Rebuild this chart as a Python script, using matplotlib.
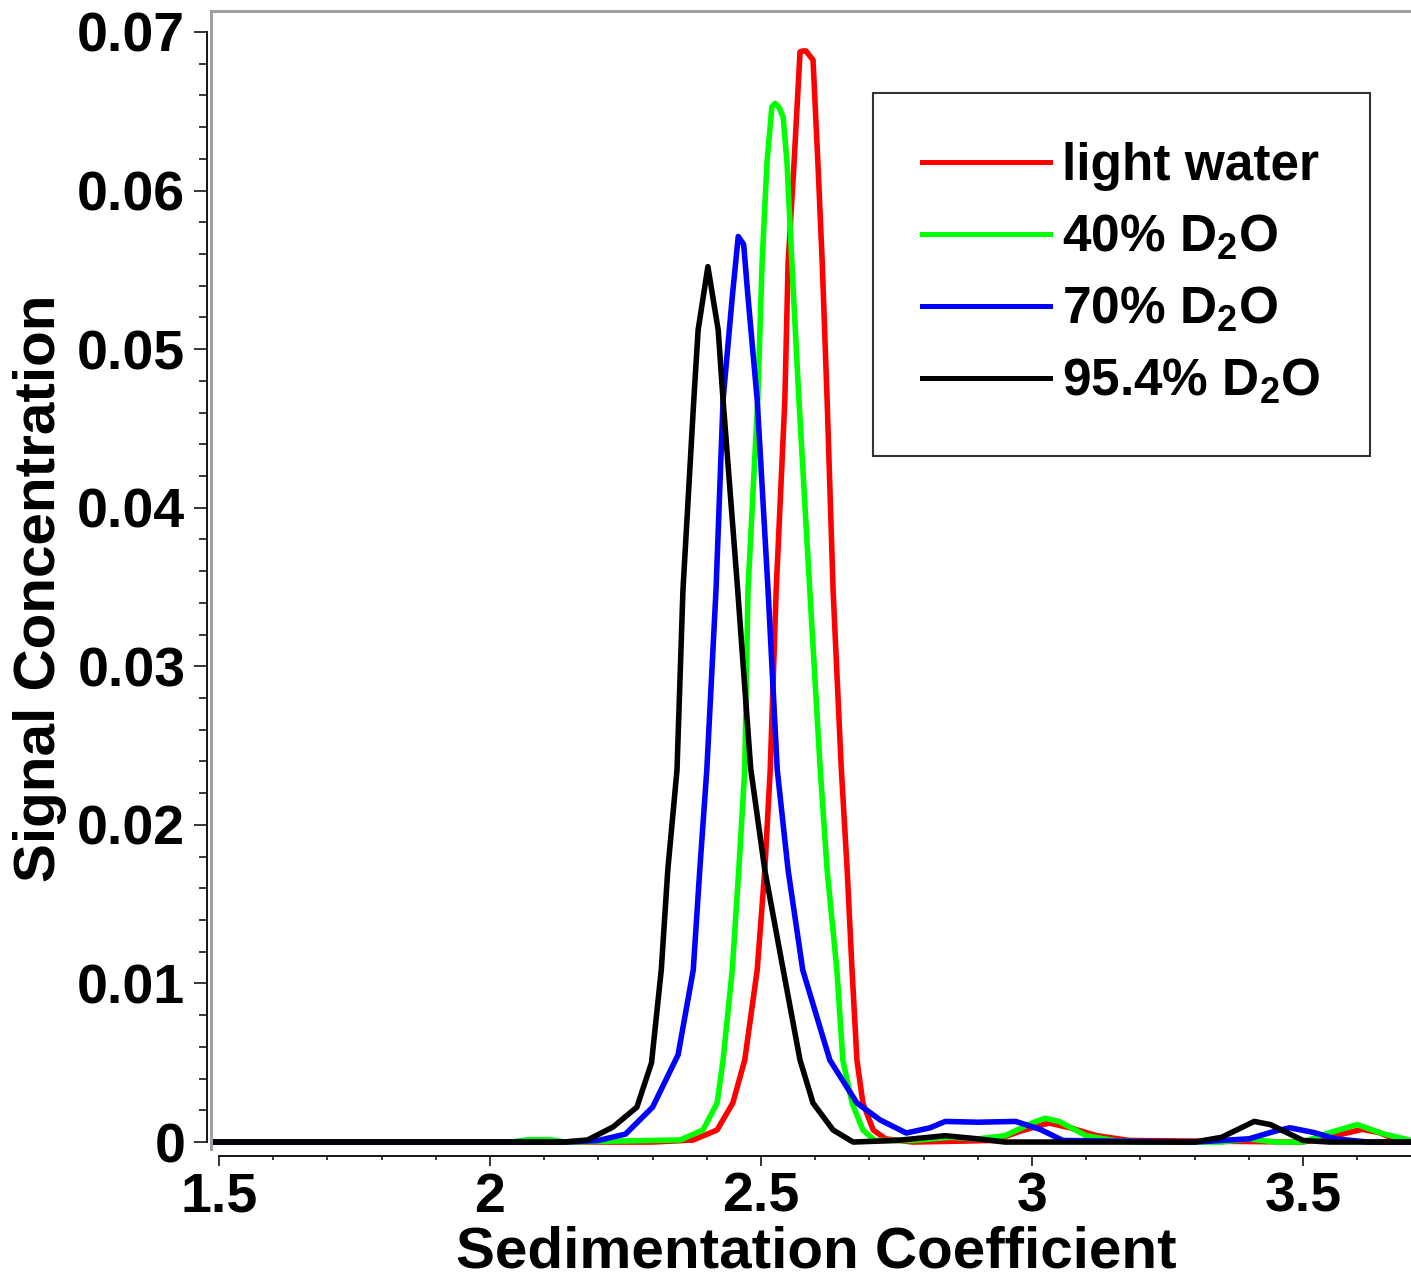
import matplotlib
matplotlib.use('Agg')
import matplotlib.pyplot as plt

plt.rcParams['font.family'] = ['Liberation Sans', 'DejaVu Sans']
plt.rcParams['font.weight'] = 'bold'
plt.rcParams['mathtext.fontset'] = 'custom'
plt.rcParams['mathtext.rm'] = 'Liberation Sans:bold'
plt.rcParams['mathtext.bf'] = 'Liberation Sans:bold'

# Data
light_x = [1.48, 2.30, 2.375, 2.419, 2.448, 2.470, 2.493, 2.507, 2.517, 2.528, 2.544, 2.550,
           2.561, 2.572, 2.577, 2.583, 2.596, 2.605, 2.613, 2.622, 2.633, 2.648, 2.659, 2.668,
           2.677, 2.688, 2.707, 2.73, 2.78, 2.93, 2.98, 3.031, 3.07, 3.12, 3.18, 3.50, 3.56,
           3.609, 3.64, 3.668, 3.70]
light_y = [0, 0, 0.00013, 0.00076, 0.00246, 0.00517, 0.01085, 0.01715, 0.02346, 0.03481,
           0.04679, 0.05543, 0.06174, 0.06874, 0.0688, 0.0688, 0.06823, 0.06174, 0.05543,
           0.04679, 0.03481, 0.02365, 0.01715, 0.01085, 0.00517, 0.00246, 0.00076, 0.0002,
           0, 0.0001, 0.0007, 0.0012, 0.0009, 0.0004, 0.0001, 0, 0.0004, 0.0008, 0.0006,
           0.0002, 0]

d40_x = [1.48, 2.04, 2.07, 2.11, 2.14, 2.30, 2.351, 2.393, 2.419, 2.430, 2.447, 2.459, 2.470,
         2.476, 2.494, 2.502, 2.511, 2.520, 2.526, 2.534, 2.541, 2.548, 2.557, 2.570, 2.590,
         2.609, 2.622, 2.640, 2.651, 2.668, 2.688, 2.71, 2.78, 2.85, 2.90, 2.95, 3.00, 3.024,
         3.05, 3.10, 3.15, 3.20, 3.35, 3.40, 3.45, 3.50, 3.55, 3.60, 3.65, 3.70]
d40_y = [0, 0, 0.00015, 0.00015, 0, 0.0001, 0.00013, 0.00076, 0.00246, 0.00517, 0.01085,
         0.01715, 0.02346, 0.03481, 0.04679, 0.05543, 0.06174, 0.06527, 0.0655, 0.0652,
         0.0646, 0.06174, 0.05543, 0.04679, 0.03481, 0.02365, 0.01715, 0.01085, 0.00517,
         0.00246, 0.00076, 0.0001, 0.0001, 0.0003, 0.0002, 0.0004, 0.0012, 0.0015, 0.0013,
         0.0004, 0.0001, 0, 0, 0.0002, 0, 0, 0.0006, 0.0011, 0.0005, 0.0001]

d70_x = [1.48, 2.14, 2.20, 2.25, 2.30, 2.347, 2.375, 2.387, 2.400, 2.417, 2.430, 2.447, 2.458,
         2.468, 2.476, 2.493, 2.513, 2.530, 2.550, 2.577, 2.627, 2.677, 2.720, 2.768, 2.812,
         2.84, 2.90, 2.97, 3.015, 3.057, 3.30, 3.40, 3.45, 3.476, 3.52, 3.56, 3.62, 3.70]
d70_y = [0, 0, 0.0001, 0.0005, 0.0022, 0.0055, 0.01085, 0.01715, 0.02346, 0.03481, 0.04679,
         0.05329, 0.0571, 0.0566, 0.05329, 0.04679, 0.03481, 0.02346, 0.01715, 0.01085,
         0.00517, 0.00246, 0.00139, 0.00057, 0.0009, 0.0013, 0.00125, 0.0013, 0.0008, 0.0001,
         0, 0.0002, 0.0007, 0.0009, 0.0006, 0.0002, 0, 0]

d95_x = [1.48, 2.135, 2.18, 2.227, 2.271, 2.298, 2.316, 2.328, 2.345, 2.356, 2.376, 2.384,
         2.402, 2.421, 2.430, 2.457, 2.481, 2.507, 2.541, 2.572, 2.596, 2.633, 2.670, 2.75,
         2.84, 2.90, 2.95, 3.30, 3.35, 3.41, 3.44, 3.50, 3.55, 3.70]
d95_y = [0, 0, 0.00013, 0.00095, 0.0022, 0.0050, 0.01085, 0.01715, 0.02346, 0.03481, 0.04679,
         0.05121, 0.0552, 0.05121, 0.04679, 0.03481, 0.02355, 0.01715, 0.01085, 0.00517,
         0.00246, 0.00076, 0, 0.0001, 0.0004, 0.0002, 0, 0, 0.0003, 0.0013, 0.0011, 0.0001,
         0, 0]

series = [
    (light_x, light_y, '#ff0000', 'light water'),
    (d40_x, d40_y, '#00ff00', r'40% D$_\mathbf{2}$O'),
    (d70_x, d70_y, '#0000ff', r'70% D$_\mathbf{2}$O'),
    (d95_x, d95_y, '#000000', r'95.4% D$_\mathbf{2}$O'),
]

W, H = 1411, 1278
fig = plt.figure(figsize=(W / 100, H / 100), dpi=100)
ax = fig.add_axes([211 / W, 1 - 1156 / H, 1 - 211 / W, (1156 - 11) / H])

for xs, ys, color, label in series:
    ax.plot(xs, ys, color=color, linewidth=4.0, label=label)

ax.set_xlim(1.4852, 3.6993)
ax.set_ylim(-0.00088, 0.07132)

# frame: grey top/left box, black axis lines with ticks
ax.spines['right'].set_visible(False)
ax.spines['top'].set_color('#a0a0a0')
ax.spines['top'].set_linewidth(2.2)
ax.plot([0, 0], [0.006, 1], transform=ax.transAxes, color='#a0a0a0', lw=2.2, clip_on=False)
ax.spines['left'].set_position(('outward', 3))
ax.spines['left'].set_bounds(0, 0.07)
ax.spines['left'].set_linewidth(1.3)
ax.spines['bottom'].set_bounds(1.5, 3.6993)
ax.spines['bottom'].set_linewidth(1.3)

ax.set_xticks([1.5, 2, 2.5, 3, 3.5])
ax.set_xticklabels(['1.5', '2', '2.5', '3', '3.5'])
ax.set_xticks([v / 10 for v in range(15, 37)], minor=True)
ax.set_yticks([0, 0.01, 0.02, 0.03, 0.04, 0.05, 0.06, 0.07])
ax.set_yticklabels(['0', '0.01', '0.02', '0.03', '0.04', '0.05', '0.06', '0.07'])
ax.set_yticks([v * 0.002 for v in range(0, 36)], minor=True)

ax.tick_params(axis='x', which='major', length=7.5, width=1.1, labelsize=40, pad=4)
ax.tick_params(axis='x', which='minor', length=3, width=1.1)
ax.tick_params(axis='y', which='major', length=9.5, width=1.1, labelsize=40, pad=6)
ax.tick_params(axis='y', which='minor', length=6, width=1.1)
for lab in ax.get_xticklabels() + ax.get_yticklabels():
    lab.set_fontweight('bold')

# axis titles placed to match the reference
fig.text(816 / W, 1 - 1268 / H, 'Sedimentation Coefficient', fontsize=42,
         fontweight='bold', ha='center', va='baseline')
fig.text(40 / W, 1 - 588 / H, 'Signal Concentration', fontsize=42,
         fontweight='bold', ha='center', va='center', rotation=90)

leg = ax.legend(loc='upper left', bbox_to_anchor=(873 / W, 1 - 93 / H),
                bbox_transform=fig.transFigure, borderaxespad=0, fancybox=False,
                frameon=True, edgecolor='black', fontsize=37, handlelength=2.5,
                handletextpad=0.23, borderpad=0.95, labelspacing=0.44)
leg.get_frame().set_linewidth(1.5)
for line in leg.get_lines():
    line.set_linewidth(3.6)

fig.savefig('out.png', dpi=100)
